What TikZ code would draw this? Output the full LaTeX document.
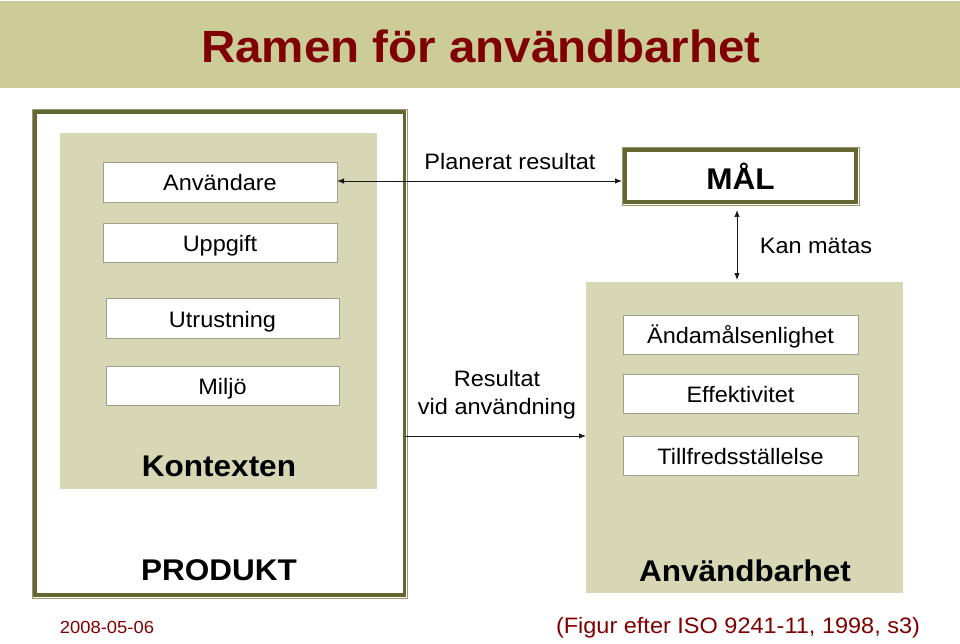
\documentclass[tikz,border=0pt]{standalone}
\usepackage{fontspec}
\setmainfont{Liberation Sans}
\usepackage{graphicx}
\usetikzlibrary{arrows.meta,calc}
\definecolor{tbar}{HTML}{CCCC99}
\definecolor{khaki}{HTML}{D7D7B6}
\definecolor{olive}{HTML}{666633}
\definecolor{oliveL}{HTML}{9A9A70}
\definecolor{boxline}{HTML}{A0A088}
\definecolor{dred}{HTML}{800000}
\newcommand\sqz[1]{\scalebox{1}[0.95]{#1}}
\begin{document}
\begin{tikzpicture}[x=1pt,y=-1pt,
  wbox/.style={draw=boxline, line width=0.8pt, fill=white, minimum width=235pt, minimum height=39pt, inner sep=0pt, outer sep=0pt, text height=20pt, text depth=2pt, font=\fontsize{23.5}{28}\selectfont},
  frame/.style={draw=olive, line width=3.2pt, fill=white, inner sep=0pt, outer sep=0pt},
  thinframe/.style={draw=oliveL, line width=0.8pt},
  panel/.style={fill=khaki, inner sep=0pt, outer sep=0pt},
  lbl/.style={font=\fontsize{23.5}{28}\selectfont, inner sep=0pt, align=center},
  blbl/.style={font=\bfseries\fontsize{31.5}{36}\selectfont, inner sep=0pt},
  arr/.style={line width=0.9pt, draw=black!90, {Latex[length=7pt,width=5.5pt]}-{Latex[length=7pt,width=5.5pt]}},
  rarr/.style={line width=0.9pt, draw=black!90, -{Latex[length=7pt,width=5.5pt]}}
]
\useasboundingbox (0,0) rectangle (960,644);
\fill[white] (0,0) rectangle (960,644);
% title bar
\node[fill=tbar, minimum width=960pt, minimum height=87pt, inner sep=0pt, outer sep=0pt] (bar) at (480,44.5) {};
\node[font=\bfseries\fontsize{47.5}{50}\selectfont, text=dred, inner sep=0pt] (title) at (481,46) {\sqz{Ramen för användbarhet}};

% PRODUKT frame
\node[frame, minimum width=369.5pt, minimum height=483pt] (prod) at (219.75,353.5) {};
\draw[thinframe] ($(prod.north west)+(-3,-3)$) rectangle ($(prod.south east)+(3,3)$);
\node[panel, minimum width=317pt, minimum height=356pt] (kont) at (218.5,311) {};
\node[wbox, minimum width=234pt, minimum height=40pt] (anv) at (220,182) {\sqz{Användare}};
\node[wbox, minimum width=234pt] (upp) at (220,242.5) {\sqz{Uppgift}};
\node[wbox, minimum width=233pt, minimum height=40pt] (utr) at (222.5,318) {\sqz{Utrustning}};
\node[wbox, minimum width=233pt] (milj) at (222.5,385.5) {\sqz{Miljö}};
\node[blbl] (kontl) at (219,466) {\sqz{Kontexten}};
\node[blbl] (prodl) at (219,570) {\sqz{PRODUKT}};

% MAL
\node[frame, minimum width=231pt, minimum height=52pt, font=\bfseries\fontsize{31.5}{36}\selectfont] (mal) at (740.5,176) {\sqz{MÅL}};
\draw[thinframe] ($(mal.north west)+(-3,-3)$) rectangle ($(mal.south east)+(3,3)$);

% Anvandbarhet panel
\node[panel, minimum width=317pt, minimum height=311pt] (anvb) at (744.5,437.5) {};
\node[wbox] (andam) at (740.5,334.5) {\sqz{Ändamålsenlighet}};
\node[wbox] (eff) at (740.5,393.5) {\sqz{Effektivitet}};
\node[wbox] (till) at (740.5,455.5) {\sqz{Tillfredsställelse}};
\node[blbl] (anvbl) at (745,571) {\sqz{Användbarhet}};

% connectors
\coordinate (p1) at ($(anv.east)+(0,-1)$);
\coordinate (p2) at ($(p1 -| mal.west)+(-3,0)$);
\draw[arr] (p1) -- (p2);
\node[lbl] (plan) at (510,162) {\sqz{Planerat resultat}};

\coordinate (m1) at ($(mal.south)+(-3.5,8)$);
\coordinate (m2) at ($(m1 |- anvb.north)+(0,-2)$);
\draw[arr] (m1) -- (m2);
\node[lbl] (kan) at (816,246) {\sqz{Kan mätas}};

\coordinate (r1) at (405,436);
\draw[rarr] (r1) -- (r1 -| anvb.west);
\node[lbl] (res) at (497,395) {\sqz{Resultat}\\\sqz{vid användning}};

% footer
\node[font=\fontsize{18.4}{22}\selectfont, text=dred, inner sep=0pt] (date) at (107,627) {\sqz{2008-05-06}};
\node[font=\fontsize{23.5}{28}\selectfont, text=dred, inner sep=0pt] (src) at (738,628) {\sqz{(Figur efter ISO 9241-11, 1998, s3)}};
\end{tikzpicture}
\end{document}
